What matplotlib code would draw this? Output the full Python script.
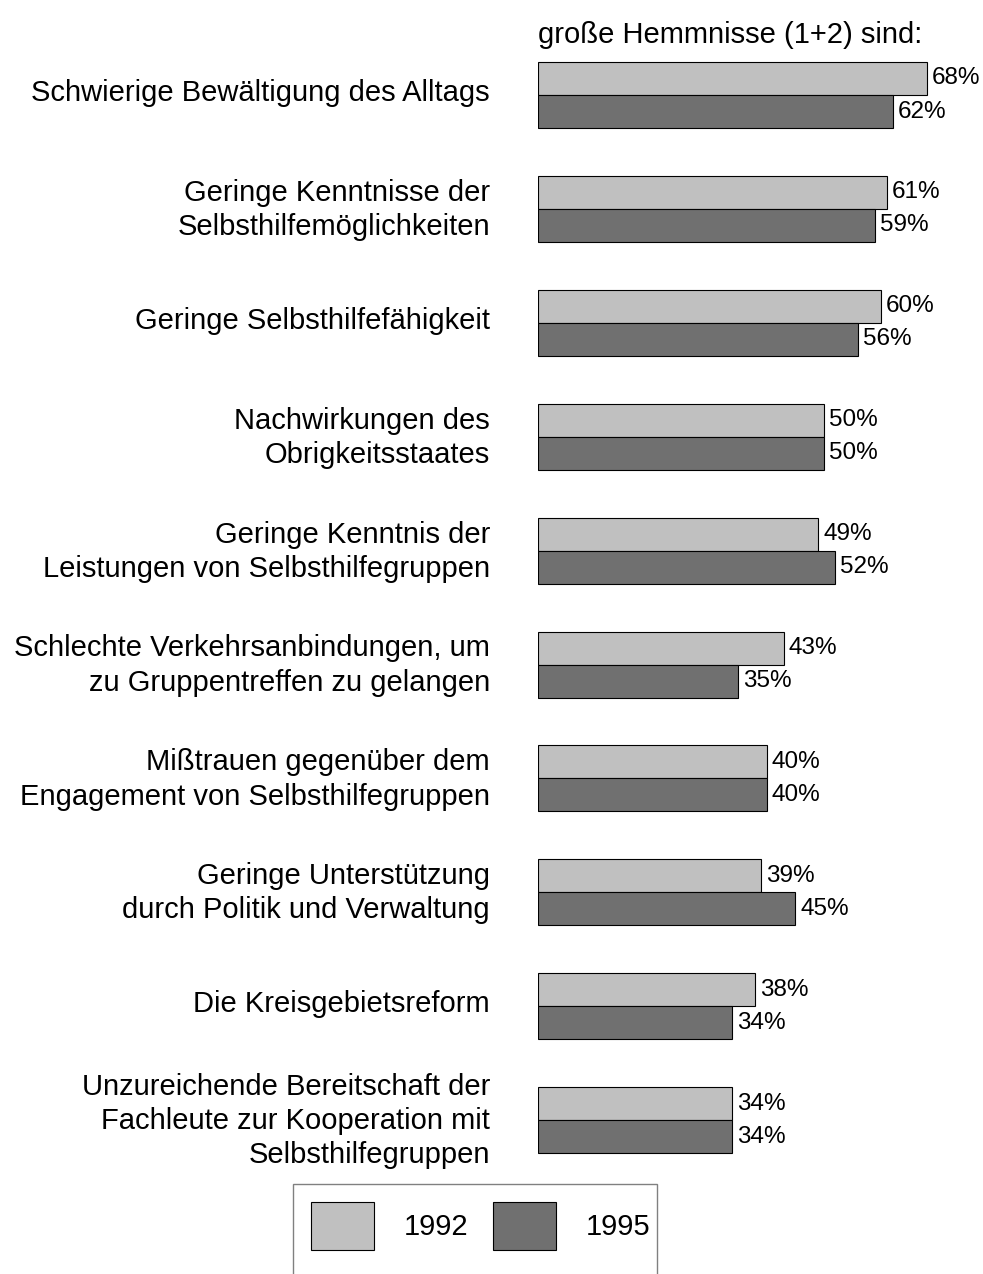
import numpy as np
import matplotlib
matplotlib.use('Agg')
import matplotlib.pyplot as plt
from matplotlib.patches import Rectangle

plt.rcParams['font.family'] = ['Liberation Sans', 'DejaVu Sans']

# Daten: Anteil "große Hemmnisse (1+2)" in Prozent
categories = [
    'Schwierige Bewältigung des Alltags',
    'Geringe Kenntnisse der\nSelbsthilfemöglichkeiten',
    'Geringe Selbsthilfefähigkeit',
    'Nachwirkungen des\nObrigkeitsstaates',
    'Geringe Kenntnis der\nLeistungen von Selbsthilfegruppen',
    'Schlechte Verkehrsanbindungen, um\nzu Gruppentreffen zu gelangen',
    'Mißtrauen gegenüber dem\nEngagement von Selbsthilfegruppen',
    'Geringe Unterstützung\ndurch Politik und Verwaltung',
    'Die Kreisgebietsreform',
    'Unzureichende Bereitschaft der\nFachleute zur Kooperation mit\nSelbsthilfegruppen',
]
values_1992 = [68, 61, 60, 50, 49, 43, 40, 39, 38, 34]
values_1995 = [62, 59, 56, 50, 52, 35, 40, 45, 34, 34]
years = ['1992', '1995']

W, H = 983, 1274
fs = 21
fig = plt.figure(figsize=(W / 100, H / 100), dpi=100)

# Achse: links bei x=538px, 5.72 px pro Prozentpunkt
left_px = 538
ax = fig.add_axes([left_px / W, 0, 1 - left_px / W, 1])
px_per_pct = 5.72
ax.set_xlim(0, (W - left_px) / px_per_pct)

y0_px, step_px = 95, 113.9
ax.set_ylim((H - y0_px) / step_px, -y0_px / step_px)

pos = np.arange(len(categories))
bh = 33 / step_px
b1 = ax.barh(pos - bh / 2, values_1992, height=bh, color='#c0c0c0',
             edgecolor='black', linewidth=0.8, label=years[0])
b2 = ax.barh(pos + bh / 2, values_1995, height=bh, color='#707070',
             edgecolor='black', linewidth=0.8, label=years[1])

ax.bar_label(b1, labels=[f'{v}%' for v in values_1992], padding=3.5, fontsize=17.5)
ax.bar_label(b2, labels=[f'{v}%' for v in values_1995], padding=3.5, fontsize=17.5)

# Beschriftungen etwas oberhalb der Gruppenmitte
ax.set_yticks(pos - 5 / step_px)
ax.set_yticklabels(categories, fontsize=fs, linespacing=1.28)
ax.tick_params(axis='y', length=0, pad=34.5)
ax.set_xticks([])
for s in ax.spines.values():
    s.set_visible(False)

fig.text(left_px / W, 1 - 43 / H, 'große Hemmnisse (1+2) sind:',
         fontsize=fs, ha='left', va='baseline')

# Legende ohne eigenen Rahmen, Rahmen separat (unten abgeschnitten)
fig.legend(handles=[b1, b2], labels=years, loc='upper left',
           bbox_to_anchor=(293 / W, 1 - 1184 / H), borderaxespad=0,
           ncol=2, fontsize=fs, handlelength=2.16, handleheight=2.16,
           borderpad=0.62, handletextpad=1.03, columnspacing=0.83,
           frameon=False)
fig.patches.append(Rectangle((293 / W, -0.02), (657 - 293) / W, 0.02 + (H - 1184) / H,
                             transform=fig.transFigure, fill=False,
                             edgecolor='#808080', linewidth=1))

fig.savefig('out.png', dpi=100)
